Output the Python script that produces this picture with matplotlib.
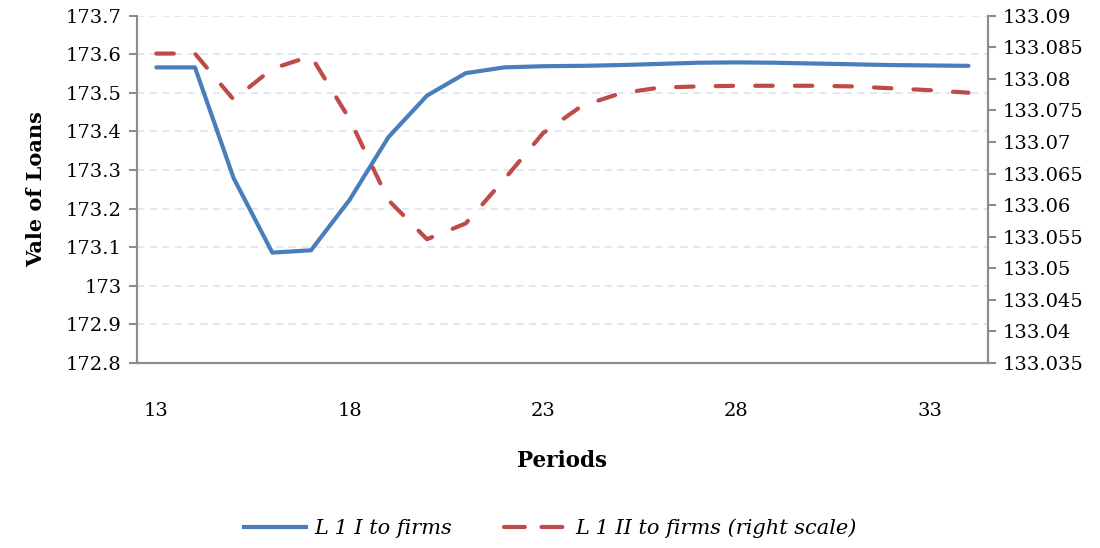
import matplotlib
matplotlib.use("Agg")
import matplotlib.pyplot as plt
from matplotlib.lines import Line2D

# data
periods = list(range(13, 35))
loans_l1_I = [173.566, 173.566, 173.279, 173.086, 173.092, 173.223, 173.385, 173.493,
              173.551, 173.566, 173.569, 173.570, 173.572, 173.575, 173.578, 173.579,
              173.578, 173.576, 173.574, 173.572, 173.571, 173.570]
loans_l1_II = [133.0840, 133.0840, 133.0767, 133.0816, 133.0836, 133.0736, 133.0608, 133.0546,
               133.0571, 133.0641, 133.0714, 133.0757, 133.0777, 133.0786, 133.0788, 133.0789,
               133.0789, 133.0789, 133.0788, 133.0785, 133.0782, 133.0778]
left_ticks = [172.8, 172.9, 173.0, 173.1, 173.2, 173.3, 173.4, 173.5, 173.6, 173.7]
left_labels = ["172.8", "172.9", "173", "173.1", "173.2", "173.3", "173.4", "173.5", "173.6", "173.7"]
right_ticks = [133.035, 133.04, 133.045, 133.05, 133.055, 133.06, 133.065, 133.07,
               133.075, 133.08, 133.085, 133.09]
right_labels = ["133.035", "133.04", "133.045", "133.05", "133.055", "133.06", "133.065",
                "133.07", "133.075", "133.08", "133.085", "133.09"]
x_ticks = [13, 18, 23, 28, 33]

plt.rcParams['font.family'] = ['DejaVu Serif']
plt.rcParams['font.size'] = 14

blue = '#4a7ebb'
red = '#be4b48'
grey = '#8c8c8c'

fig = plt.figure(figsize=(11, 5.48), dpi=100)
ax = fig.add_axes([0.1245, 0.3376, 0.898 - 0.1245, 0.9714 - 0.3376])
ax2 = ax.twinx()

ax.plot(periods, loans_l1_I, color=blue, lw=3, solid_capstyle='round', zorder=3)
ax2.plot(periods, loans_l1_II, color=red, lw=3, dashes=(4.2, 5.3),
         dash_capstyle='round', zorder=3)

ax.set_xlim(12.5, 34.5)
ax.set_ylim(172.8, 173.7)
ax2.set_ylim(133.035, 133.09)

ax.set_yticks(left_ticks)
ax.set_yticklabels(left_labels)
ax2.set_yticks(right_ticks)
ax2.set_yticklabels(right_labels)
ax.set_xticks(x_ticks)
ax.set_xticklabels([str(t) for t in x_ticks])

# grid
for t in left_ticks[1:]:
    ax.axhline(t, color='#dce6f2', lw=1.3, dashes=(4, 3), zorder=1)

for a in (ax, ax2):
    a.spines['top'].set_visible(False)
    for s in ('left', 'right', 'bottom'):
        a.spines[s].set_color(grey)
        a.spines[s].set_linewidth(1.5)
ax.tick_params(axis='y', direction='out', length=6, width=1.5, color=grey, labelsize=14, pad=5)
ax2.tick_params(axis='y', direction='out', length=6, width=1.5, color=grey, labelsize=14, pad=5)
ax.tick_params(axis='x', length=0, labelsize=14, pad=28)

ax.set_ylabel("Vale of Loans", fontsize=15, fontweight='bold', labelpad=14)
ax.set_xlabel("Periods", fontsize=15.5, fontweight='bold', labelpad=22)

handles = [Line2D([], [], color=blue, lw=3),
           Line2D([], [], color=red, lw=3, dashes=(5.0, 4.0), dash_capstyle='round')]
fig.legend(handles, ["L 1 I to firms", "L 1 II to firms (right scale)"],
           loc='center', bbox_to_anchor=(0.5, 0.036), ncol=2, frameon=False,
           prop={'style': 'italic', 'size': 15}, handlelength=3.0, columnspacing=2.5,
           handletextpad=0.4)

fig.savefig("out.png", dpi=100)
